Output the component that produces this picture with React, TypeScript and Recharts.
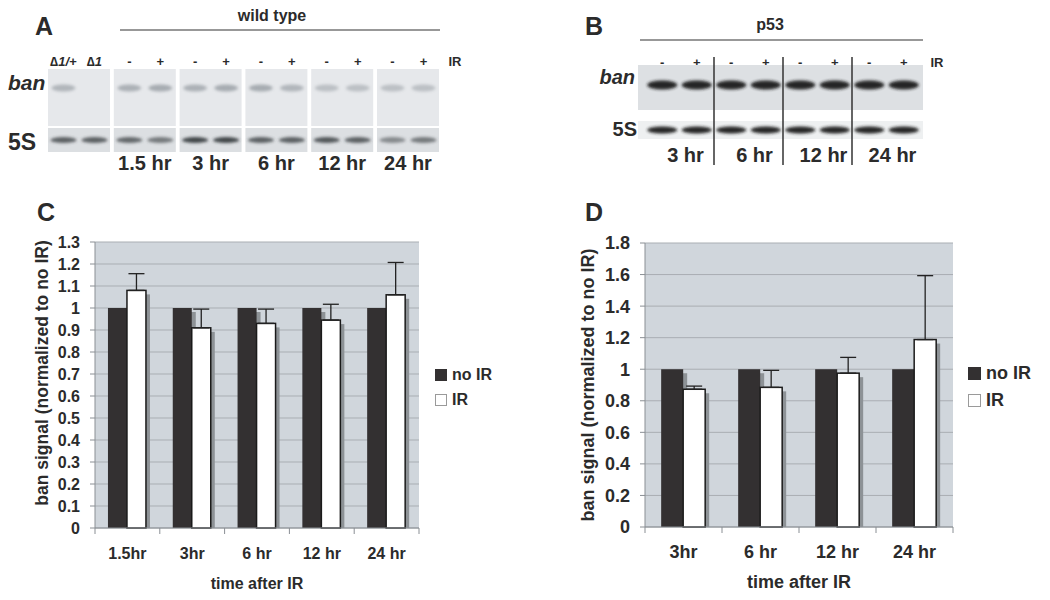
import React from 'react';
import { BarChart, Bar, XAxis, YAxis, CartesianGrid, ErrorBar, Label } from 'recharts';

// panel C (wild type)
const wtTimes = ['1.5hr', '3hr', '6 hr', '12 hr', '24 hr'];
const wtNoIR = [1, 1, 1, 1, 1];
const wtIR = [1.08, 0.91, 0.93, 0.945, 1.06];
const wtIRErr = [0.076, 0.085, 0.065, 0.072, 0.147];
const wtTicks = [0, 0.1, 0.2, 0.3, 0.4, 0.5, 0.6, 0.7, 0.8, 0.9, 1, 1.1, 1.2, 1.3];

// panel D (p53)
const p53Times = ['3hr', '6 hr', '12 hr', '24 hr'];
const p53NoIR = [1, 1, 1, 1];
const p53IR = [0.873, 0.885, 0.975, 1.188];
const p53IRErr = [0.02, 0.108, 0.1, 0.405];
const p53Ticks = [0, 0.2, 0.4, 0.6, 0.8, 1, 1.2, 1.4, 1.6, 1.8];

const seriesNames = ['no IR', 'IR'];
const seriesColors = ['#333031', '#ffffff'];

// blot lanes (panel A and B)
const wtLaneLabels = ['\u22061/+', '\u22061', '-', '+', '-', '+', '-', '+', '-', '+', '-', '+'];
const wtBlotTimes = ['1.5 hr', '3 hr', '6 hr', '12 hr', '24 hr'];
const wtBanSignal = [0.5, 0, 0.55, 0.6, 0.55, 0.6, 0.6, 0.5, 0.4, 0.4, 0.4, 0.4];
const wt5SSignal = [0.75, 0.75, 0.7, 0.6, 0.9, 0.9, 0.75, 0.75, 0.8, 0.75, 0.5, 0.6];
const p53LaneLabels = ['-', '+', '-', '+', '-', '+', '-', '+'];
const p53BlotTimes = ['3 hr', '6 hr', '12 hr', '24 hr'];
const p53BanSignal = [0.95, 0.95, 0.95, 0.95, 0.95, 0.95, 0.95, 0.95];
const p535SSignal = [0.95, 0.95, 0.95, 0.95, 0.95, 0.95, 0.95, 0.95];

const FONT = '"Liberation Sans", Arial, sans-serif';
const INK = '#2b2b2b';
const AXIS = '#8a8f94';

const ShadowBar = (props: any) => {
  const { x, y, width, height, fill, stroke } = props;
  if (!height || height <= 0) return null;
  const outlined = stroke && stroke !== 'none';
  return (
    <g>
      <rect x={x + 4} y={y + 4} width={width} height={Math.max(height - 4, 0)} fill="#8d9296" />
      <rect x={x} y={y} width={width} height={height} fill={fill} stroke={outlined ? stroke : 'none'} strokeWidth={outlined ? 1.5 : 0} />
    </g>
  );
};

const makeXTick = (step: number, n: number, fontSize: number) => (props: any) => {
  const { x, y, payload, index } = props;
  return (
    <g>
      <line x1={x - step / 2} x2={x - step / 2} y1={y} y2={y + 6} stroke={AXIS} />
      {index === n - 1 && <line x1={x + step / 2} x2={x + step / 2} y1={y} y2={y + 6} stroke={AXIS} />}
      <text x={x} y={y + 25} textAnchor="middle" dominantBaseline="central" fontSize={fontSize} fontWeight={700} fill={INK} fontFamily={FONT}>
        {payload.value}
      </text>
    </g>
  );
};

const yTitle = (text: string, dx: number, dy: number, fontSize: number) => (props: any) => {
  const vb = props.viewBox;
  const cx = vb.x + dx;
  const cy = vb.y + vb.height / 2 + dy;
  return (
    <text x={cx} y={cy} transform={`rotate(-90 ${cx} ${cy})`} textAnchor="middle" dominantBaseline="central" fontSize={fontSize} fontWeight={700} fill={INK} fontFamily={FONT}>
      {text}
    </text>
  );
};

const xTitle = (text: string, dy: number, fontSize: number) => (props: any) => {
  const vb = props.viewBox;
  return (
    <text x={vb.x + vb.width / 2} y={vb.y + dy} textAnchor="middle" dominantBaseline="central" fontSize={fontSize} fontWeight={700} fill={INK} fontFamily={FONT}>
      {text}
    </text>
  );
};

interface PanelProps {
  times: string[];
  noIR: number[];
  ir: number[];
  irErr: number[];
  ticks: number[];
  width: number;
  height: number;
  margin: { top: number; right: number; bottom: number; left: number };
  yWidth: number;
  fontSize: number;
  titleSize: number;
  yTitleDx: number;
  yTitleDy: number;
  gap: string;
}

function RatioChart(p: PanelProps) {
  const rows = p.times.map((t, i) => ({ time: t, noIR: p.noIR[i], ir: p.ir[i], irErr: [0, p.irErr[i]] }));
  const plotW = p.width - p.margin.left - p.margin.right - p.yWidth;
  const top = p.ticks[p.ticks.length - 1];
  return (
    <BarChart width={p.width} height={p.height} data={rows} margin={p.margin} barCategoryGap={p.gap} barGap={0}>
      <CartesianGrid vertical={false} fill="#d0d6dc" fillOpacity={1} stroke="#a9aeb3" />
      <XAxis
        dataKey="time"
        height={72}
        tickSize={0}
        tickMargin={0}
        tickLine={false}
        axisLine={{ stroke: AXIS }}
        interval={0}
        tick={makeXTick(plotW / rows.length, rows.length, p.fontSize)}
      >
        <Label content={xTitle('time after IR', 55, p.fontSize)} />
      </XAxis>
      <YAxis
        domain={[0, top]}
        ticks={p.ticks}
        width={p.yWidth}
        interval={0}
        tickSize={5}
        tickMargin={10}
        tickLine={{ stroke: AXIS }}
        axisLine={{ stroke: AXIS }}
        tick={{ fontSize: p.fontSize, fontWeight: 700, fill: INK, fontFamily: FONT }}
      >
        <Label content={yTitle('ban signal (normalized to no IR)', p.yTitleDx, p.yTitleDy, p.titleSize)} />
      </YAxis>
      <YAxis yAxisId="r" orientation="right" width={0} domain={[0, top]} tick={false} tickLine={false} axisLine={{ stroke: AXIS }} />
      <Bar dataKey="noIR" fill={seriesColors[0]} shape={ShadowBar} isAnimationActive={false} />
      <Bar dataKey="ir" fill={seriesColors[1]} stroke="#1a1a1a" shape={ShadowBar} isAnimationActive={false}>
        <ErrorBar dataKey="irErr" direction="y" width={8} stroke="#222" strokeWidth={1.3} />
      </Bar>
    </BarChart>
  );
}

function ChartLegend({ left, top, size, box }: { left: number; top: number; size: number; box: number }) {
  return (
    <div style={{ position: 'absolute', left, top, fontFamily: FONT, fontWeight: 700, fontSize: size, color: INK }}>
      {seriesNames.map((name, i) => (
        <div key={name} style={{ display: 'flex', alignItems: 'center', height: size + 9 }}>
          <span
            style={{
              display: 'inline-block',
              width: box,
              height: box,
              background: seriesColors[i],
              border: i === 1 ? '1px solid #9a9a9a' : '1px solid ' + seriesColors[i],
              marginRight: 5,
              boxSizing: 'border-box',
            }}
          />
          {name}
        </div>
      ))}
    </div>
  );
}

const txt = { fontFamily: FONT, fontWeight: 700, fill: INK } as const;

function Blots() {
  // panel A geometry
  const segX = 48;
  const segW = 62;
  const segPitch = 65.8;
  const laneX = (i: number) => segX + Math.floor(i / 2) * segPitch + (i % 2 === 0 ? segW * 0.25 : segW * 0.75);
  const segCount = wtLaneLabels.length / 2;
  // panel B geometry
  const bX = 645;
  const bPitch = 34.5;
  const bLane = (i: number) => bX + bPitch * (i + 0.5);
  return (
    <svg width={1050} height={185} style={{ position: 'absolute', left: 0, top: 0 }}>
      <defs>
        <filter id="soft" x="-50%" y="-100%" width="200%" height="300%">
          <feGaussianBlur stdDeviation="1.6" />
        </filter>
      </defs>
      <text x={35} y={35} fontSize={25} {...txt}>A</text>
      <text x={272} y={15} fontSize={16} textAnchor="middle" dominantBaseline="central" {...txt}>wild type</text>
      <line x1={120} x2={440} y1={30} y2={30} stroke="#333" strokeWidth={1.2} />
      {Array.from({ length: segCount }).map((_, s) => (
        <g key={s}>
          <rect x={segX + s * segPitch} y={69} width={segW} height={57} fill="#e6e8eb" />
          <rect x={segX + s * segPitch} y={128} width={segW} height={24} fill="#dcdfe2" />
        </g>
      ))}
      {wtLaneLabels.map((l, i) => (
        <text key={i} x={laneX(i)} y={61} fontSize={13} textAnchor="middle" dominantBaseline="central" fontStyle={i < 2 ? 'italic' : 'normal'} {...txt}>{l}</text>
      ))}
      <text x={455} y={61} fontSize={13} textAnchor="middle" dominantBaseline="central" {...txt}>IR</text>
      <text x={8} y={82} fontSize={21} fontStyle="italic" dominantBaseline="central" {...txt}>ban</text>
      <text x={8} y={142} fontSize={23} dominantBaseline="central" {...txt}>5S</text>
      {wtBanSignal.map((v, i) => (
        <ellipse key={'b' + i} cx={laneX(i)} cy={88} rx={12} ry={3.5} fill="#7d848b" opacity={v} filter="url(#soft)" />
      ))}
      {wt5SSignal.map((v, i) => (
        <ellipse key={'s' + i} cx={laneX(i)} cy={140} rx={13} ry={3} fill="#33373b" opacity={v} filter="url(#soft)" />
      ))}
      {wtBlotTimes.map((t, i) => (
        <text key={t} x={segX + (i + 1) * segPitch + segW / 2} y={163} fontSize={20} textAnchor="middle" dominantBaseline="central" {...txt}>{t}</text>
      ))}

      <text x={585} y={35} fontSize={25} {...txt}>B</text>
      <text x={770} y={24} fontSize={16} textAnchor="middle" dominantBaseline="central" {...txt}>p53</text>
      <line x1={640} x2={923} y1={40} y2={40} stroke="#333" strokeWidth={1.2} />
      {p53LaneLabels.map((l, i) => (
        <text key={i} x={bLane(i)} y={62} fontSize={13} textAnchor="middle" dominantBaseline="central" {...txt}>{l}</text>
      ))}
      <text x={937} y={62} fontSize={13} textAnchor="middle" dominantBaseline="central" {...txt}>IR</text>
      <text x={635} y={77} fontSize={20} fontStyle="italic" textAnchor="end" dominantBaseline="central" {...txt}>ban</text>
      <text x={637} y={129} fontSize={20} textAnchor="end" dominantBaseline="central" {...txt}>5S</text>
      <rect x={638} y={65} width={285} height={45} fill="#dde0e3" />
      <rect x={638} y={121} width={285} height={18} fill="#eef0f1" />
      {p53BanSignal.map((v, i) => (
        <ellipse key={'pb' + i} cx={bLane(i)} cy={85} rx={15} ry={4.5} fill="#1d1d1d" opacity={v} filter="url(#soft)" />
      ))}
      {p535SSignal.map((v, i) => (
        <ellipse key={'ps' + i} cx={bLane(i)} cy={130} rx={15} ry={3.5} fill="#1d1d1d" opacity={v} filter="url(#soft)" />
      ))}
      {[1, 2, 3].map((k) => (
        <line key={k} x1={bX + k * 2 * bPitch} x2={bX + k * 2 * bPitch} y1={57} y2={165} stroke="#333" strokeWidth={1.5} />
      ))}
      {p53BlotTimes.map((t, i) => (
        <text key={t} x={bX + (2 * i + 1) * bPitch + 6} y={155} fontSize={20} textAnchor="middle" dominantBaseline="central" {...txt}>{t}</text>
      ))}
    </svg>
  );
}

export default function App() {
  return (
    <div style={{ position: 'absolute', left: 0, top: 0, width: 1050, height: 600, background: '#fff', overflow: 'hidden' }}>
      <Blots />
      <div style={{ position: 'absolute', left: 37, top: 198, fontFamily: FONT, fontWeight: 700, fontSize: 25, color: INK }}>C</div>
      <div style={{ position: 'absolute', left: 585, top: 198, fontFamily: FONT, fontWeight: 700, fontSize: 25, color: INK }}>D</div>
      <div style={{ position: 'absolute', left: 0, top: 190 }}>
        <RatioChart
          times={wtTimes}
          noIR={wtNoIR}
          ir={wtIR}
          irErr={wtIRErr}
          ticks={wtTicks}
          width={520}
          height={410}
          margin={{ top: 52, right: 101, bottom: 0, left: 0 }}
          yWidth={95}
          fontSize={16}
          titleSize={17.5}
          yTitleDx={42}
          yTitleDy={-12}
          gap="20%"
        />
        <ChartLegend left={435} top={172} size={16} box={12} />
      </div>
      <div style={{ position: 'absolute', left: 520, top: 190 }}>
        <RatioChart
          times={p53Times}
          noIR={p53NoIR}
          ir={p53IR}
          irErr={p53IRErr}
          ticks={p53Ticks}
          width={530}
          height={410}
          margin={{ top: 53, right: 97, bottom: 1, left: 0 }}
          yWidth={125}
          fontSize={18}
          titleSize={18}
          yTitleDx={68}
          yTitleDy={0}
          gap="21%"
        />
        <ChartLegend left={448} top={170} size={18} box={13} />
      </div>
    </div>
  );
}
